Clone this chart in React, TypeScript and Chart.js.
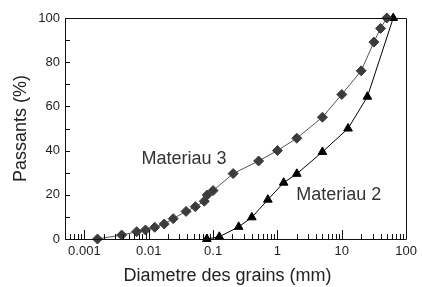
import React, { useEffect, useRef } from "react";
import { Chart, registerables } from "chart.js";

Chart.register(...registerables);

const m3X = [0.0016, 0.0038, 0.0065, 0.0089, 0.0124, 0.0174, 0.024, 0.038, 0.053, 0.073, 0.081, 0.1, 0.205, 0.51, 1.0, 2.0, 5.0, 10, 20, 31.5, 40, 50];
const m3Y = [0, 1.8, 3.3, 4.1, 5.3, 6.8, 9.2, 12.5, 14.6, 17.1, 19.9, 21.9, 29.6, 35.3, 40, 45.6, 55.1, 65.4, 76.1, 89.1, 95.3, 100];

const m2X = [0.08, 0.125, 0.25, 0.4, 0.71, 1.25, 2.0, 5.0, 12.5, 25, 63];
const m2Y = [0, 1, 5.5, 9.8, 17.8, 25.5, 29.5, 39.4, 50, 64.4, 100];

const xTickValues = [0.001, 0.01, 0.1, 1, 10, 100];
const yMinorStep = 10;

const xTitle = "Diametre des grains (mm)";
const yTitle = "Passants (%)";

const labels = [
  { text: "Materiau 3", x: 0.0077, y: 36.2 },
  { text: "Materiau 2", x: 1.96, y: 19.9 },
];

const FONT = "'Liberation Sans', Arial, Helvetica, sans-serif";

export default function App() {
  const ref = useRef<HTMLCanvasElement | null>(null);

  useEffect(() => {
    if (!ref.current) return;
    Chart.defaults.font.family = FONT;
    Chart.defaults.color = "#222";

    const framePlugin = {
      id: "frameTicks",
      afterDraw(chart: any) {
        const ctx = chart.ctx;
        const { left, right, top, bottom } = chart.chartArea;
        const xs = chart.scales.x;
        const ys = chart.scales.y;
        ctx.save();
        ctx.strokeStyle = "#111";
        ctx.lineWidth = 1;
        ctx.beginPath();
        ctx.rect(Math.round(left) + 0.5, Math.round(top) + 0.5, Math.round(right - left), Math.round(bottom - top));
        ctx.stroke();
        ctx.beginPath();
        for (let d = -4; d <= 2; d++) {
          for (let k = 1; k <= 9; k++) {
            const v = k * Math.pow(10, d);
            if (v < xs.min * 0.999 || v > xs.max * 1.001) continue;
            const px = Math.round(xs.getPixelForValue(v)) + 0.5;
            const len = k === 1 ? 9 : 5;
            ctx.moveTo(px, bottom);
            ctx.lineTo(px, bottom - len);
          }
        }
        for (let v = 0; v <= 100; v += yMinorStep) {
          const py = Math.round(ys.getPixelForValue(v)) + 0.5;
          ctx.moveTo(left, py);
          ctx.lineTo(left + 5, py);
        }
        ctx.stroke();
        ctx.fillStyle = "#333";
        ctx.font = `18px ${FONT}`;
        ctx.textAlign = "left";
        ctx.textBaseline = "middle";
        for (const l of labels) {
          ctx.fillText(l.text, xs.getPixelForValue(l.x), ys.getPixelForValue(l.y));
        }
        ctx.fillStyle = "#222";
        ctx.textAlign = "center";
        ctx.fillText(xTitle, (left + right) / 2 - 8, bottom + 37);
        ctx.restore();
      },
    };

    const chart = new Chart(ref.current, {
      type: "scatter",
      data: {
        datasets: [
          {
            label: "Materiau 3",
            data: m3X.map((x, i) => ({ x, y: m3Y[i] })),
            showLine: true,
            borderColor: "#555",
            borderWidth: 1,
            backgroundColor: "#3c3c3c",
            pointBorderColor: "#3c3c3c",
            pointStyle: "rectRot",
            pointRadius: 5,
            clip: false,
          },
          {
            label: "Materiau 2",
            data: m2X.map((x, i) => ({ x, y: m2Y[i] })),
            showLine: true,
            borderColor: "#000",
            borderWidth: 1,
            backgroundColor: "#000",
            pointBorderColor: "#000",
            pointStyle: "triangle",
            pointRadius: 5,
            clip: false,
          },
        ],
      },
      options: {
        responsive: false,
        animation: false,
        layout: { autoPadding: false, padding: { top: 18, right: 11, left: 0, bottom: 0 } },
        plugins: { legend: { display: false }, tooltip: { enabled: false } },
        scales: {
          x: {
            type: "logarithmic",
            min: 0.0005,
            max: 100,
            grid: { display: false, drawTicks: false },
            border: { display: false },
            afterBuildTicks: (scale: any) => {
              scale.ticks = xTickValues.map((v) => ({ value: v }));
            },
            afterFit: (scale: any) => {
              scale.height = 48;
            },
            ticks: {
              autoSkip: false,
              maxRotation: 0,
              padding: 5,
              font: { size: 13 },
              color: "#222",
              callback: (v: any) => String(Number(v)),
            },
          },
          y: {
            min: 0,
            max: 100,
            grid: { display: false, drawTicks: false },
            border: { display: false },
            afterFit: (scale: any) => {
              scale.width = 65;
            },
            ticks: { stepSize: 20, padding: 5, font: { size: 13 }, color: "#222" },
            title: {
              display: true,
              text: yTitle,
              font: { size: 18 },
              color: "#222",
              padding: { top: 10, bottom: 0 },
            },
          },
        },
      },
      plugins: [framePlugin],
    });
    return () => chart.destroy();
  }, []);

  return (
    <div style={{ position: "absolute", left: 0, top: 0, width: 422, height: 287, background: "#fff" }}>
      <canvas ref={ref} width={422} height={287} />
    </div>
  );
}
